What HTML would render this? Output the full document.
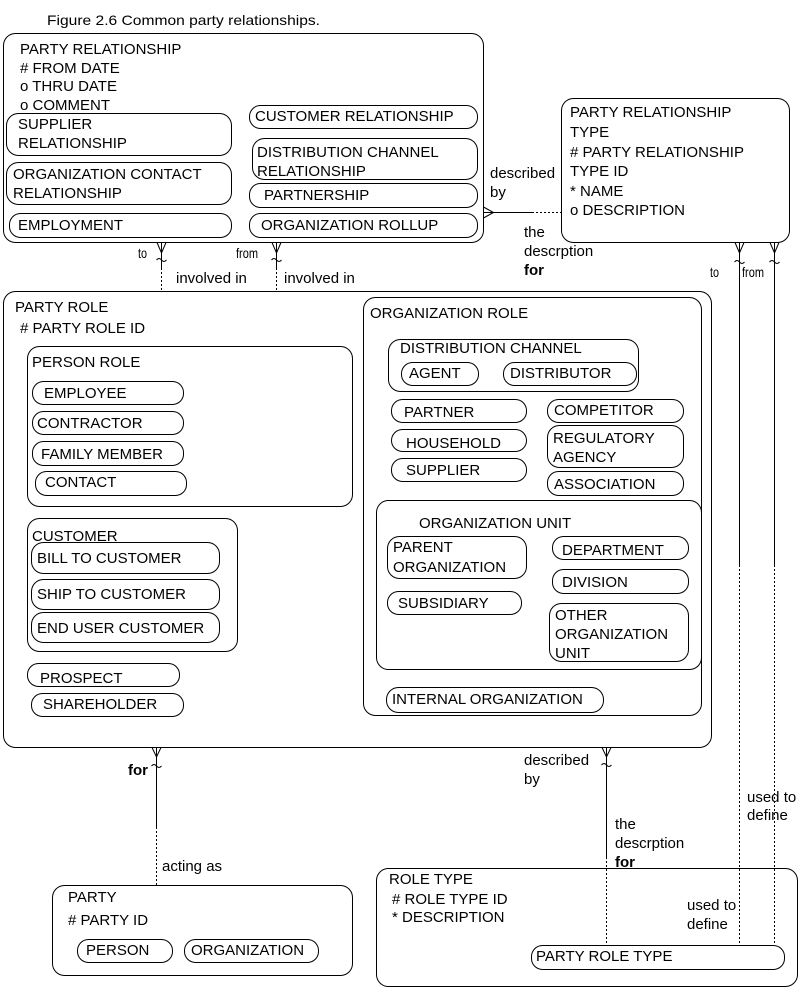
<!DOCTYPE html>
<html><head><meta charset="utf-8"><style>
html,body{margin:0;padding:0;background:#fff;}
svg{display:block;}
text{font-family:"Liberation Sans",Arial,sans-serif;font-size:15px;fill:#000;}
.s{font-size:14px;}
.b{font-weight:bold;}
rect{fill:none;stroke:#000;stroke-width:1;}
.l{stroke:#000;stroke-width:1;fill:none;}
.d{stroke:#000;stroke-width:1;fill:none;stroke-dasharray:2,2;}
</style></head><body>
<svg width="810" height="991" viewBox="0 0 810 991" xmlns="http://www.w3.org/2000/svg">
<text x="47" y="25" textLength="273" lengthAdjust="spacingAndGlyphs" style="font-size:14px">Figure 2.6 Common party relationships.</text>

<!-- PARTY RELATIONSHIP -->
<rect x="3.5" y="33.5" width="480" height="209" rx="12"/>
<text x="20" y="54">PARTY RELATIONSHIP</text>
<text x="20" y="73"># FROM DATE</text>
<text x="20" y="91">o THRU DATE</text>
<text x="20" y="110">o COMMENT</text>
<rect x="6.5" y="113.5" width="225" height="42" rx="12"/>
<text x="18" y="129">SUPPLIER</text>
<text x="18" y="148">RELATIONSHIP</text>
<rect x="6.5" y="162.5" width="225" height="42" rx="12"/>
<text x="13" y="179">ORGANIZATION CONTACT</text>
<text x="13" y="198">RELATIONSHIP</text>
<rect x="9.5" y="213.5" width="222" height="24" rx="11"/>
<text x="18" y="230">EMPLOYMENT</text>
<rect x="249.5" y="105.5" width="228" height="23" rx="11"/>
<text x="255" y="121">CUSTOMER RELATIONSHIP</text>
<rect x="252.5" y="138.5" width="225" height="41" rx="12"/>
<text x="257" y="157">DISTRIBUTION CHANNEL</text>
<text x="257" y="176">RELATIONSHIP</text>
<rect x="249.5" y="183.5" width="228" height="24" rx="11"/>
<text x="264" y="200">PARTNERSHIP</text>
<rect x="249.5" y="213.5" width="228" height="24" rx="11"/>
<text x="261" y="230">ORGANIZATION ROLLUP</text>

<!-- PARTY RELATIONSHIP TYPE -->
<rect x="561.5" y="98.5" width="228" height="144" rx="12"/>
<text x="570" y="117">PARTY RELATIONSHIP</text>
<text x="570" y="137">TYPE</text>
<text x="570" y="157"># PARTY RELATIONSHIP</text>
<text x="570" y="176">TYPE ID</text>
<text x="570" y="196">* NAME</text>
<text x="570" y="215">o DESCRIPTION</text>

<!-- connector PR -> PRT -->
<path class="l" d="M483.5 207 L493.5 212.5 L483.5 218 M483.5 212.5 L532 212.5"/>
<path class="d" d="M532 212.5 L561 212.5"/>
<text x="490" y="178">described</text>
<text x="490" y="197">by</text>
<text x="524" y="237">the</text>
<text x="524" y="256">descrption</text>
<text x="524" y="275" class="b">for</text>

<!-- connectors PR -> PARTY ROLE -->
<path class="l" d="M157 242.5 L161.5 253 L166 242.5 M161.5 243 L161.5 268"/>
<path class="l" d="M156.5 260 q2.5 -3 5 0 q2.5 3 5 0"/>
<path class="d" d="M161.5 268 L161.5 291"/>
<path class="l" d="M272 242.5 L276.5 253 L281 242.5 M276.5 243 L276.5 268"/>
<path class="l" d="M271.5 260 q2.5 -3 5 0 q2.5 3 5 0"/>
<path class="d" d="M276.5 268 L276.5 291"/>
<text x="138" y="258" class="s" textLength="9" lengthAdjust="spacingAndGlyphs">to</text>
<text x="236" y="258" class="s" textLength="22" lengthAdjust="spacingAndGlyphs">from</text>
<text x="176" y="283">involved in</text>
<text x="284" y="283">involved in</text>

<!-- connectors PRT -> PARTY ROLE TYPE -->
<path class="l" d="M735 242.5 L739.5 253 L744 242.5 M739.5 243 L739.5 565"/>
<path class="l" d="M734.5 262 q2.5 -3 5 0 q2.5 3 5 0"/>
<path class="d" d="M739.5 565 L739.5 945"/>
<path class="l" d="M770 242.5 L774.5 253 L779 242.5 M774.5 243 L774.5 565"/>
<path class="l" d="M769.5 262 q2.5 -3 5 0 q2.5 3 5 0"/>
<path class="d" d="M774.5 565 L774.5 945"/>
<text x="710" y="277" class="s" textLength="9" lengthAdjust="spacingAndGlyphs">to</text>
<text x="742" y="277" class="s" textLength="22" lengthAdjust="spacingAndGlyphs">from</text>
<text x="747" y="802">used to</text>
<text x="747" y="820">define</text>

<!-- PARTY ROLE -->
<rect x="3.5" y="291.5" width="708" height="456" rx="12"/>
<text x="15" y="312">PARTY ROLE</text>
<text x="20" y="333"># PARTY ROLE ID</text>

<rect x="27.5" y="346.5" width="325" height="160" rx="12"/>
<text x="32" y="367">PERSON ROLE</text>
<rect x="32.5" y="381.5" width="151" height="23" rx="11"/>
<text x="44" y="398">EMPLOYEE</text>
<rect x="32.5" y="411.5" width="151" height="23" rx="11"/>
<text x="37" y="428">CONTRACTOR</text>
<rect x="32.5" y="441.5" width="151" height="24" rx="11"/>
<text x="41" y="459">FAMILY MEMBER</text>
<rect x="35.5" y="471.5" width="151" height="24" rx="11"/>
<text x="45" y="487">CONTACT</text>

<rect x="27.5" y="518.5" width="210" height="133" rx="12"/>
<text x="32" y="541">CUSTOMER</text>
<rect x="31.5" y="542.5" width="188" height="31" rx="12"/>
<text x="37" y="563">BILL TO CUSTOMER</text>
<rect x="31.5" y="579.5" width="188" height="30" rx="12"/>
<text x="37" y="599">SHIP TO CUSTOMER</text>
<rect x="31.5" y="612.5" width="188" height="30" rx="12"/>
<text x="37" y="633">END USER CUSTOMER</text>
<rect x="27.5" y="663.5" width="152" height="23" rx="11"/>
<text x="40" y="683">PROSPECT</text>
<rect x="31.5" y="693.5" width="152" height="23" rx="11"/>
<text x="43" y="709">SHAREHOLDER</text>

<!-- ORGANIZATION ROLE -->
<rect x="363.5" y="297.5" width="338" height="418" rx="12"/>
<text x="370" y="318">ORGANIZATION ROLE</text>
<rect x="388.5" y="339.5" width="250" height="52" rx="12"/>
<text x="400" y="353">DISTRIBUTION CHANNEL</text>
<rect x="401.5" y="362.5" width="77" height="23" rx="11"/>
<text x="409" y="378">AGENT</text>
<rect x="503.5" y="362.5" width="133" height="23" rx="11"/>
<text x="510" y="378">DISTRIBUTOR</text>
<rect x="391.5" y="399.5" width="135" height="23" rx="11"/>
<text x="404" y="417">PARTNER</text>
<rect x="391.5" y="429.5" width="135" height="22" rx="11"/>
<text x="406" y="448">HOUSEHOLD</text>
<rect x="391.5" y="458.5" width="135" height="23" rx="11"/>
<text x="406" y="475">SUPPLIER</text>
<rect x="547.5" y="399.5" width="136" height="23" rx="11"/>
<text x="554" y="415">COMPETITOR</text>
<rect x="547.5" y="425.5" width="136" height="42" rx="12"/>
<text x="553" y="443">REGULATORY</text>
<text x="553" y="462">AGENCY</text>
<rect x="547.5" y="471.5" width="136" height="24" rx="11"/>
<text x="554" y="489">ASSOCIATION</text>

<rect x="376.5" y="500.5" width="325" height="169" rx="12"/>
<text x="419" y="528">ORGANIZATION UNIT</text>
<rect x="387.5" y="536.5" width="139" height="42" rx="12"/>
<text x="393" y="552">PARENT</text>
<text x="393" y="572">ORGANIZATION</text>
<rect x="387.5" y="591.5" width="134" height="23" rx="11"/>
<text x="398" y="608">SUBSIDIARY</text>
<rect x="552.5" y="536.5" width="136" height="23" rx="11"/>
<text x="562" y="555">DEPARTMENT</text>
<rect x="552.5" y="569.5" width="136" height="24" rx="11"/>
<text x="562" y="587">DIVISION</text>
<rect x="549.5" y="603.5" width="139" height="58" rx="12"/>
<text x="555" y="620">OTHER</text>
<text x="555" y="639">ORGANIZATION</text>
<text x="555" y="658">UNIT</text>
<rect x="386.5" y="687.5" width="217" height="25" rx="12"/>
<text x="392" y="704">INTERNAL ORGANIZATION</text>

<!-- PARTY ROLE -> PARTY -->
<path class="l" d="M152 747.5 L156.5 757 L161 747.5 M156.5 748 L156.5 827"/>
<path class="l" d="M151.5 766 q2.5 -3 5 0 q2.5 3 5 0"/>
<path class="d" d="M156.5 827 L156.5 885"/>
<text x="128" y="775" class="b">for</text>
<text x="162" y="871">acting as</text>

<!-- PARTY ROLE -> ROLE TYPE -->
<path class="l" d="M602 747.5 L606.5 757 L611 747.5 M606.5 748 L606.5 857"/>
<path class="l" d="M601.5 765 q2.5 -3 5 0 q2.5 3 5 0"/>
<path class="d" d="M606.5 857 L606.5 945"/>
<text x="524" y="765">described</text>
<text x="524" y="784">by</text>
<text x="615" y="829">the</text>
<text x="615" y="848">descrption</text>
<text x="615" y="867" class="b">for</text>

<!-- PARTY -->
<rect x="52.5" y="885.5" width="300" height="90" rx="12"/>
<text x="68" y="902">PARTY</text>
<text x="68" y="925"># PARTY ID</text>
<rect x="77.5" y="939.5" width="95" height="23" rx="11"/>
<text x="86" y="955">PERSON</text>
<rect x="184.5" y="939.5" width="134" height="23" rx="11"/>
<text x="191" y="955">ORGANIZATION</text>

<!-- ROLE TYPE -->
<rect x="376.5" y="868.5" width="421" height="118" rx="12"/>
<text x="389" y="884">ROLE TYPE</text>
<text x="392" y="904"># ROLE TYPE ID</text>
<text x="392" y="922">* DESCRIPTION</text>
<text x="687" y="910">used to</text>
<text x="687" y="929">define</text>
<rect x="531.5" y="945.5" width="253" height="24" rx="11"/>
<text x="536" y="961">PARTY ROLE TYPE</text>
</svg>
</body></html>
